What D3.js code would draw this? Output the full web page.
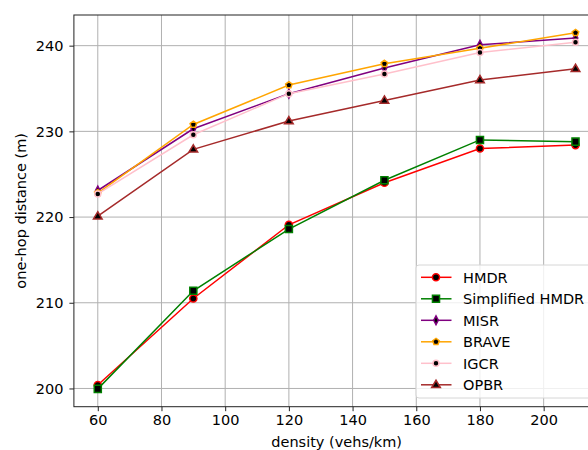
<!DOCTYPE html>
<html>
<head>
<meta charset="utf-8">
<script src="https://cdn.jsdelivr.net/npm/d3@7"></script>
<style>
  body { margin: 0; background: #fff; }
  svg { display: block; overflow: hidden; }
  text { font-family: "DejaVu Sans", sans-serif; fill: #000; }
</style>
</head>
<body>
<div id="chart"></div>
<script>
var w = 588, h = 450;

// data
var density = [60, 90, 120, 150, 180, 210];
var hmdr       = [200.4, 210.5, 219.1, 224.0, 228.0, 228.4];
var simplified = [199.95, 211.4, 218.6, 224.3, 229.0, 228.8];
var misr       = [223.1, 230.3, 234.4, 237.4, 240.1, 240.9];
var brave      = [222.8, 230.8, 235.4, 237.9, 239.7, 241.5];
var igcr       = [222.7, 229.6, 234.4, 236.7, 239.2, 240.4];
var opbr       = [220.1, 227.9, 231.2, 233.6, 236.0, 237.3];
var names  = ["HMDR", "Simplified HMDR", "MISR", "BRAVE", "IGCR", "OPBR"];
var xTicks = [60, 80, 100, 120, 140, 160, 180, 200];
var yTicks = [200, 210, 220, 230, 240];

var fs = "14.5px";

// custom marker shapes
var thinDiamond = { draw: function(ctx, s) {
  var r = Math.sqrt(s) / 2;
  ctx.moveTo(0, -r * 1.25); ctx.lineTo(r * 0.65, 0);
  ctx.lineTo(0, r * 1.25); ctx.lineTo(-r * 0.65, 0); ctx.closePath();
}};
var pentagon = { draw: function(ctx, s) {
  var r = Math.sqrt(s) / 1.6;
  for (var i = 0; i < 5; i++) {
    var a = -Math.PI / 2 + i * 2 * Math.PI / 5;
    if (i == 0) ctx.moveTo(r * Math.cos(a), r * Math.sin(a));
    else ctx.lineTo(r * Math.cos(a), r * Math.sin(a));
  }
  ctx.closePath();
}};
var triUp = { draw: function(ctx, s) {
  var r = Math.sqrt(s) / 1.7;
  ctx.moveTo(0, -r); ctx.lineTo(r * 0.95, r * 0.6);
  ctx.lineTo(-r * 0.95, r * 0.6); ctx.closePath();
}};

var series = [
  { name: names[0], vals: hmdr,       color: "red",     sym: d3.symbolCircle, size: 40 },
  { name: names[1], vals: simplified, color: "green",   sym: d3.symbolSquare, size: 50 },
  { name: names[2], vals: misr,       color: "purple",  sym: thinDiamond,     size: 50 },
  { name: names[3], vals: brave,      color: "orange",  sym: pentagon,        size: 30 },
  { name: names[4], vals: igcr,       color: "pink",    sym: d3.symbolCircle, size: 28 },
  { name: names[5], vals: opbr,       color: "brown",   sym: triUp,           size: 60 }
];

var mLeft = 73.9, mRight = 599.4, mTop = 15, mBottom = 406.7;

var allY = d3.merge(series.map(function(s) { return s.vals; }));
var yMin = d3.min(allY), yMax = d3.max(allY);
var yPad = (yMax - yMin) * 0.05;
var xPad = (d3.max(density) - d3.min(density)) * 0.05;

var x = d3.scaleLinear()
  .domain([d3.min(density) - xPad, d3.max(density) + xPad])
  .range([mLeft, mRight]);
var y = d3.scaleLinear()
  .domain([yMin - yPad, yMax + yPad])
  .range([mBottom, mTop]);

var svg = d3.select("#chart").append("svg")
  .attr("width", w).attr("height", h);

// grid
svg.append("g").selectAll("line").data(xTicks).enter().append("line")
  .attr("x1", function(d) { return x(d); }).attr("x2", function(d) { return x(d); })
  .attr("y1", mTop).attr("y2", mBottom)
  .attr("stroke", "#b0b0b0").attr("stroke-width", 1);
svg.append("g").selectAll("line").data(yTicks).enter().append("line")
  .attr("y1", function(d) { return y(d); }).attr("y2", function(d) { return y(d); })
  .attr("x1", mLeft).attr("x2", mRight)
  .attr("stroke", "#b0b0b0").attr("stroke-width", 1);

// axes
var xAxis = d3.axisBottom(x).tickValues(xTicks).tickSize(4.5).tickPadding(3.5);
var yAxis = d3.axisLeft(y).tickValues(yTicks).tickSize(4.5).tickPadding(6);

svg.append("g").attr("transform", "translate(0," + mBottom + ")").call(xAxis)
  .call(function(g) { g.select(".domain").remove(); })
  .selectAll("text").style("font-size", fs);
svg.append("g").attr("transform", "translate(" + mLeft + ",0)").call(yAxis)
  .call(function(g) { g.select(".domain").remove(); })
  .selectAll("text").style("font-size", fs);
svg.selectAll(".tick line").attr("stroke", "#222").attr("stroke-width", 1);

// frame
svg.append("rect")
  .attr("x", mLeft).attr("y", mTop)
  .attr("width", mRight - mLeft).attr("height", mBottom - mTop)
  .attr("fill", "none").attr("stroke", "#222").attr("stroke-width", 1);

// lines and markers
var line = d3.line()
  .x(function(d, i) { return x(density[i]); })
  .y(function(d) { return y(d); });

series.forEach(function(s) {
  var g = svg.append("g");
  g.append("path").datum(s.vals)
    .attr("d", line).attr("fill", "none")
    .attr("stroke", s.color).attr("stroke-width", 1.5);
  g.selectAll("path.m").data(s.vals).enter().append("path")
    .attr("class", "m")
    .attr("d", d3.symbol().type(s.sym).size(s.size))
    .attr("transform", function(d, i) { return "translate(" + x(density[i]) + "," + y(d) + ")"; })
    .attr("fill", "#000").attr("stroke", s.color).attr("stroke-width", 1.5);
});

// axis labels
svg.append("text")
  .attr("x", (mLeft + mRight) / 2).attr("y", 447)
  .attr("text-anchor", "middle").style("font-size", fs)
  .text("density (vehs/km)");
svg.append("text")
  .attr("transform", "translate(25.5," + ((mTop + mBottom) / 2) + ") rotate(-90)")
  .attr("text-anchor", "middle").style("font-size", fs)
  .text("one-hop distance (m)");

// legend
var lg = svg.append("g");
lg.append("rect")
  .attr("x", 416).attr("y", 265).attr("width", 178).attr("height", 133)
  .attr("rx", 3).attr("fill", "#fff").attr("fill-opacity", 0.8)
  .attr("stroke", "#d6d6d6").attr("stroke-width", 1);

var rows = lg.selectAll("g.row").data(series).enter().append("g")
  .attr("class", "row")
  .attr("transform", function(d, i) { return "translate(0," + (277.3 + i * 21.5) + ")"; });
rows.append("line")
  .attr("x1", 421).attr("x2", 451.5).attr("y1", 0).attr("y2", 0)
  .attr("stroke", function(d) { return d.color; }).attr("stroke-width", 1.5);
rows.append("path")
  .attr("d", function(d) { return d3.symbol().type(d.sym).size(d.size)(); })
  .attr("transform", "translate(436,0)")
  .attr("fill", "#000").attr("stroke", function(d) { return d.color; }).attr("stroke-width", 1.5);
rows.append("text")
  .attr("x", 463).attr("y", 0).attr("dy", "0.36em")
  .style("font-size", fs)
  .text(function(d) { return d.name; });
</script>
</body>
</html>
